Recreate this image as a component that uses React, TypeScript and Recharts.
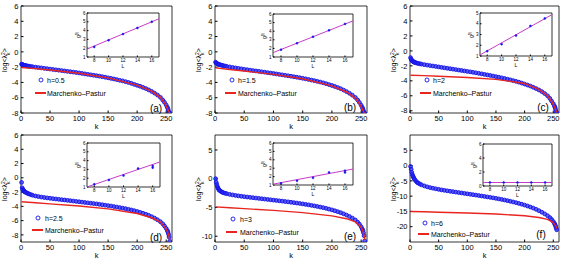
import React from 'react';
import { ScatterChart, Scatter, XAxis, YAxis, ReferenceArea } from 'recharts';

// eigenvalue index k (dense at both ends where the curve is steep)
const kIdx = [
  1, 2, 3, 4, 5, 6, 7, 8, 10, 12, 14, 17,
  20, 25, 30, 35, 40, 45, 50, 55, 60, 65, 70, 75, 80, 85, 90, 95, 100, 105, 110, 115, 120,
  125, 130, 135, 140, 145, 150, 155, 160, 165, 170, 175, 180, 185, 190, 195, 200, 205, 210,
  215, 220, 225, 230, 235, 240,
  244, 247, 250, 252, 253, 254, 255, 256,
];

const blueA = [
  -1.6, -1.65, -1.7, -1.72, -1.75, -1.77, -1.78, -1.8, -1.83, -1.86, -1.88, -1.92,
  -1.95, -2.0, -2.05, -2.1, -2.15, -2.2, -2.25, -2.3, -2.35, -2.4, -2.45, -2.5, -2.55, -2.6, -2.65, -2.7, -2.76, -2.82, -2.88, -2.94, -3.0,
  -3.06, -3.12, -3.18, -3.25, -3.32, -3.4, -3.47, -3.55, -3.63, -3.72, -3.8, -3.9, -4.0, -4.12, -4.25, -4.38, -4.5, -4.65,
  -4.8, -4.98, -5.18, -5.4, -5.65, -5.95,
  -6.3, -6.6, -6.95, -7.25, -7.45, -7.7, -7.95, -7.98,
];
const blueB = [
  -1.35, -1.45, -1.52, -1.56, -1.6, -1.63, -1.66, -1.68, -1.72, -1.76, -1.8, -1.85,
  -1.9, -1.97, -2.04, -2.1, -2.16, -2.22, -2.28, -2.34, -2.39, -2.45, -2.5, -2.55, -2.61, -2.66, -2.72, -2.77, -2.83, -2.89, -2.95, -3.01, -3.07,
  -3.13, -3.19, -3.26, -3.32, -3.39, -3.46, -3.53, -3.61, -3.69, -3.77, -3.86, -3.95, -4.05, -4.16, -4.28, -4.4, -4.53, -4.67,
  -4.82, -5.0, -5.2, -5.42, -5.67, -5.97,
  -6.3, -6.62, -6.98, -7.28, -7.48, -7.72, -7.95, -7.99,
];
const blueC = [
  -0.9, -1.1, -1.25, -1.33, -1.4, -1.45, -1.5, -1.53, -1.58, -1.63, -1.67, -1.72,
  -1.77, -1.84, -1.9, -1.96, -2.02, -2.08, -2.14, -2.2, -2.26, -2.32, -2.38, -2.44, -2.5, -2.56, -2.62, -2.68, -2.74, -2.8, -2.86, -2.93, -3.0,
  -3.07, -3.14, -3.21, -3.28, -3.36, -3.44, -3.52, -3.6, -3.69, -3.78, -3.87, -3.97, -4.07, -4.18, -4.3, -4.43, -4.56, -4.7,
  -4.86, -5.03, -5.22, -5.44, -5.7, -6.0,
  -6.35, -6.7, -7.05, -7.35, -7.55, -7.8, -8.1, -8.25,
];
const blueD = [
  -0.65, -1.4, -1.6, -1.75, -1.85, -1.92, -1.98, -2.03, -2.12, -2.2, -2.27, -2.36,
  -2.45, -2.55, -2.63, -2.7, -2.76, -2.82, -2.87, -2.92, -2.97, -3.02, -3.07, -3.11, -3.16, -3.21, -3.26, -3.31, -3.36, -3.41, -3.46, -3.51, -3.56,
  -3.61, -3.66, -3.72, -3.78, -3.84, -3.9, -3.96, -4.03, -4.1, -4.17, -4.25, -4.33, -4.42, -4.51, -4.61, -4.72, -4.84, -4.97,
  -5.11, -5.27, -5.45, -5.65, -5.88, -6.15,
  -6.45, -6.75, -7.1, -7.4, -7.6, -7.9, -8.3, -8.9,
];
const blueE = [
  0.0, -0.6, -1.0, -1.35, -1.6, -1.8, -1.95, -2.05, -2.2, -2.32, -2.42, -2.52,
  -2.6, -2.72, -2.82, -2.9, -2.98, -3.05, -3.12, -3.18, -3.24, -3.3, -3.36, -3.42, -3.48, -3.54, -3.6, -3.66, -3.72, -3.78, -3.84, -3.9, -3.96,
  -4.02, -4.09, -4.16, -4.23, -4.3, -4.38, -4.46, -4.54, -4.63, -4.72, -4.82, -4.92, -5.03, -5.15, -5.28, -5.42, -5.57, -5.73,
  -5.9, -6.1, -6.32, -6.57, -6.85, -7.17,
  -7.55, -7.9, -8.35, -8.75, -9.0, -9.4, -9.9, -10.8,
];
const blueF = [
  -0.3, -1.2, -2.2, -2.9, -3.4, -3.8, -4.2, -4.5, -5.0, -5.4, -5.7, -6.0,
  -6.3, -6.65, -6.95, -7.2, -7.4, -7.6, -7.78, -7.95, -8.1, -8.25, -8.4, -8.54, -8.68, -8.82, -8.96, -9.1, -9.24, -9.38, -9.52, -9.66, -9.8,
  -9.95, -10.1, -10.25, -10.4, -10.56, -10.72, -10.9, -11.08, -11.27, -11.47, -11.68, -11.9, -12.13, -12.38, -12.64, -12.92, -13.22, -13.55,
  -13.9, -14.3, -14.75, -15.25, -15.8, -16.4,
  -17.0, -17.6, -18.3, -18.9, -19.3, -19.8, -20.4, -21.0,
];

// Marchenko-Pastur reference curve
const redK = [1, 25, 50, 100, 150, 200, 225, 240, 248, 252, 255, 256];
const redA = [-2.05, -2.2, -2.38, -2.8, -3.4, -4.35, -5.15, -5.95, -6.8, -7.4, -7.9, -7.99];
const redB = [-2.1, -2.3, -2.5, -2.95, -3.52, -4.45, -5.25, -6.05, -6.9, -7.5, -7.95, -7.99];
const redC = [-3.25, -3.3, -3.38, -3.55, -3.8, -4.35, -5.15, -6.0, -6.85, -7.45, -8.0, -8.2];
const redD = [-3.35, -3.5, -3.65, -3.95, -4.35, -5.0, -5.6, -6.2, -6.95, -7.5, -8.2, -8.8];
const redE = [-4.9, -5.05, -5.2, -5.5, -5.9, -6.45, -6.95, -7.5, -8.2, -8.8, -9.8, -10.6];
const redF = [-15.0, -15.1, -15.25, -15.5, -15.85, -16.4, -17.0, -17.6, -18.4, -19.1, -20.0, -20.6];

// insets: g vs L with linear fit
const insetL = [8, 10, 12, 14, 16];
const insetL2 = [8, 10, 12, 14, 16, 16];
const gA = [2.15, 2.9, 3.6, 4.3, 5.0];
const gB = [1.85, 2.6, 3.35, 4.1, 4.85];
const gC = [1.45, 2.1, 2.9, 3.8, 4.5];
const gD = [1.3, 1.8, 2.3, 3.1, 3.4, 3.2];
const gE = [1.2, 1.5, 1.85, 2.5, 2.7, 2.5];
const gF = [0.5, 0.5, 0.5, 0.5, 0.5];
const fitL = [7, 17];
const fitA = [1.9, 5.35];
const fitB = [1.5, 5.2];
const fitC = [1.1, 4.85];
const fitD = [1.0, 3.85];
const fitE = [1.1, 2.9];
const fitF = [0.5, 0.5];

const hLabels = ['h=0.5', 'h=1.5', 'h=2', 'h=2.5', 'h=3', 'h=6'];
const tags = ['(a)', '(b)', '(c)', '(d)', '(e)', '(f)'];

const FONT = '"Liberation Sans", Arial, Helvetica, sans-serif';
const BLUE = '#1414e8';
const RED = '#e8251f';
const MAGENTA = '#c83cc8';

const BlueDot = (props: any) => (
  <circle cx={props.cx} cy={props.cy} r={1.9} fill="#2f2ff0" fillOpacity={0.75} stroke={BLUE} strokeWidth={0.9} />
);
const SmallDot = (props: any) => (
  <circle cx={props.cx} cy={props.cy} r={1} fill={BLUE} stroke={BLUE} strokeWidth={0.5} />
);
const NoDot = () => <g />;
const NoTick = () => <g />;

const panels = [
  { x: 0, y: 0, pl: 21, pr: 172, blue: blueA, red: redA, yDom: [-8, 6], yTicks: [-8, -6, -4, -2, 0, 2, 4, 6],
    inset: { x0: 87, y0: 13, x1: 159, y1: 57, L: insetL, g: gA, fit: fitA, dom: [1, 6], ticks: [1, 2, 3, 4, 5, 6] },
    leg: { cx: 41, y: 80, lx0: 35, lx1: 46, tx: 47, y2: 93 }, tag: { x: 156, y: 108 } },
  { x: 189, y: 0, pl: 26, pr: 178, blue: blueB, red: redB, yDom: [-8, 6], yTicks: [-8, -6, -4, -2, 0, 2, 4, 6],
    inset: { x0: 273, y0: 14, x1: 353, y1: 57, L: insetL, g: gB, fit: fitB, dom: [1, 6], ticks: [1, 2, 3, 4, 5, 6] },
    leg: { cx: 232, y: 80, lx0: 225, lx1: 236, tx: 238, y2: 93 }, tag: { x: 350, y: 107 } },
  { x: 378, y: 0, pl: 32, pr: 181, blue: blueC, red: redC, yDom: [-8.3, 6], yTicks: [-8, -6, -4, -2, 0, 2, 4, 6],
    inset: { x0: 480, y0: 13, x1: 552, y1: 56, L: insetL, g: gC, fit: fitC, dom: [1, 5], ticks: [1, 2, 3, 4, 5] },
    leg: { cx: 427, y: 80, lx0: 420, lx1: 431, tx: 433, y2: 93 }, tag: { x: 543, y: 107 } },
  { x: 0, y: 129, pl: 21, pr: 172, blue: blueD, red: redD, yDom: [-9, 6], yTicks: [-8, -6, -4, -2, 0, 2, 4, 6],
    inset: { x0: 87, y0: 143, x1: 160, y1: 187, L: insetL2, g: gD, fit: fitD, dom: [1, 6], ticks: [1, 2, 3, 4, 5, 6] },
    leg: { cx: 38, y: 218, lx0: 32, lx1: 43, tx: 45, y2: 230 }, tag: { x: 156, y: 237 } },
  { x: 189, y: 129, pl: 26, pr: 178, blue: blueE, red: redE, yDom: [-11, 7.6], yTicks: [-10, -5, 0, 5],
    inset: { x0: 273, y0: 143, x1: 353, y1: 185, L: insetL2, g: gE, fit: fitE, dom: [1, 6], ticks: [1, 2, 3, 4, 5, 6] },
    leg: { cx: 233, y: 219, lx0: 226, lx1: 237, tx: 240, y2: 232 }, tag: { x: 350, y: 236 } },
  { x: 378, y: 129, pl: 32, pr: 181, blue: blueF, red: redF, yDom: [-25, 10], yTicks: [-20, -15, -10, -5, 0, 5],
    inset: { x0: 483, y0: 144, x1: 552, y1: 186, L: insetL, g: gF, fit: fitF, dom: [0, 6], ticks: [0, 2, 4, 6] },
    leg: { cx: 425, y: 223, lx0: 418, lx1: 429, tx: 431, y2: 234 }, tag: { x: 541, y: 234 } },
];

const tickStyle = { fontSize: 7.5, fill: '#000', fontFamily: FONT };
const insetTick = { fontSize: 4.5, fill: '#000', fontFamily: FONT };
const kTicks = [0, 50, 100, 150, 200, 250];

function MainPanel({ p }: { p: any }) {
  const pts = kIdx.map((k, j) => ({ k, v: p.blue[j] }));
  const line = redK.map((k, j) => ({ k, v: p.red[j] }));
  const W = 189;
  const H = 129;
  return (
    <div style={{ position: 'absolute', left: p.x, top: p.y, width: W, height: H }}>
      <ScatterChart width={W} height={H} margin={{ top: 6, right: W - p.pr, bottom: 0, left: 0 }}>
        <XAxis type="number" dataKey="k" domain={[0, 260]} ticks={kTicks} interval={0}
          height={16} tickSize={-2.5} tickMargin={5} tick={tickStyle} stroke="#000" axisLine={false} />
        <XAxis xAxisId="top" orientation="top" type="number" domain={[0, 260]} ticks={kTicks} interval={0}
          height={0} tickSize={-2.5} tick={NoTick} stroke="#000" axisLine={false} />
        <YAxis type="number" dataKey="v" domain={p.yDom} ticks={p.yTicks} interval={0} allowDataOverflow
          width={p.pl} tickSize={-2.5} tickMargin={5} tick={tickStyle} stroke="#000" axisLine={false} />
        <YAxis yAxisId="right" orientation="right" type="number" domain={p.yDom} ticks={p.yTicks} interval={0}
          width={0} tickSize={-2.5} tick={NoTick} stroke="#000" axisLine={false} />
        <ReferenceArea x1={0} x2={260} y1={p.yDom[0]} y2={p.yDom[1]} fill="none" stroke="#000" strokeWidth={0.8} />
        <Scatter data={pts} shape={BlueDot} isAnimationActive={false} />
        <Scatter data={line} shape={NoDot} line={{ stroke: RED, strokeWidth: 1.4 }} isAnimationActive={false} />
      </ScatterChart>
      {/* y label */}
      <div style={{ position: 'absolute', left: p.pl - 16, top: 60, transform: 'translate(-50%,-50%) rotate(-90deg)',
        fontSize: 7, fontFamily: FONT, whiteSpace: 'nowrap', lineHeight: '8px' }}>
        log&lt;λ
        <span style={{ display: 'inline-flex', flexDirection: 'column', fontSize: 5, lineHeight: '4.5px', verticalAlign: 'middle' }}>
          <span>2</span><span>k</span>
        </span>
        &gt;
      </div>
      {/* x label */}
      <div style={{ position: 'absolute', left: (p.pl + p.pr) / 2, top: 126, transform: 'translate(-50%,-50%)',
        fontSize: 7.5, fontFamily: FONT }}>k</div>
    </div>
  );
}

function Inset({ p }: { p: any }) {
  const s = p.inset;
  const yW = 12;
  const xH = 12;
  const w = s.x1 - s.x0 + yW + 2;
  const h = s.y1 - s.y0 + xH + 2;
  const pts = s.L.map((L: number, j: number) => ({ L, g: s.g[j] }));
  const fit = fitL.map((L, j) => ({ L, g: s.fit[j] }));
  return (
    <div style={{ position: 'absolute', left: s.x0 - yW, top: s.y0 - 2, width: w, height: h }}>
      <ScatterChart width={w} height={h} margin={{ top: 2, right: 2, bottom: 0, left: 0 }}>
        <XAxis type="number" dataKey="L" domain={[7, 17]} ticks={[8, 10, 12, 14, 16]} interval={0}
          height={xH} tickSize={-1.5} tickMargin={3} tick={insetTick} axisLine={false} stroke="#000" />
        <YAxis type="number" dataKey="g" domain={s.dom} ticks={s.ticks} interval={0} allowDataOverflow
          width={yW} tickSize={-1.5} tickMargin={3} tick={insetTick} axisLine={false} stroke="#000" />
        <ReferenceArea x1={7} x2={17} y1={s.dom[0]} y2={s.dom[1]} fill="#fff" fillOpacity={1} stroke="#000" strokeWidth={0.8} />
        <Scatter data={fit} shape={NoDot} line={{ stroke: MAGENTA, strokeWidth: 1 }} isAnimationActive={false} />
        <Scatter data={pts} shape={SmallDot} isAnimationActive={false} />
      </ScatterChart>
      <div style={{ position: 'absolute', left: 3, top: (s.y1 - s.y0) / 2 + 2, transform: 'translate(-50%,-50%) rotate(-90deg)',
        fontSize: 5, fontFamily: FONT, whiteSpace: 'nowrap' }}>
        g<sup style={{ fontSize: 3.5 }}>(l)</sup>
      </div>
      <div style={{ position: 'absolute', left: yW + (s.x1 - s.x0) / 2, top: h - 3, transform: 'translate(-50%,-50%)',
        fontSize: 5, fontFamily: FONT }}>L</div>
    </div>
  );
}

function LegendBox({ p, i }: { p: any; i: number }) {
  const l = p.leg;
  return (
    <>
      <svg style={{ position: 'absolute', left: l.cx - 3, top: l.y - 3 }} width={6} height={6}>
        <circle cx={3} cy={3} r={2} fill="none" stroke={BLUE} strokeWidth={0.9} />
      </svg>
      <div style={{ position: 'absolute', left: l.tx, top: l.y, transform: 'translateY(-50%)', fontSize: 7,
        fontFamily: FONT, whiteSpace: 'nowrap' }}>{hLabels[i]}</div>
      <div style={{ position: 'absolute', left: l.lx0, top: l.y2 - 0.7, width: l.lx1 - l.lx0, height: 1.4, background: RED }} />
      <div style={{ position: 'absolute', left: l.tx, top: l.y2, transform: 'translateY(-50%)', fontSize: 7,
        fontFamily: FONT, whiteSpace: 'nowrap' }}>Marchenko–Pastur</div>
      <div style={{ position: 'absolute', left: p.tag.x, top: p.tag.y, transform: 'translate(-50%,-50%)', fontSize: 10,
        fontFamily: FONT }}>{tags[i]}</div>
    </>
  );
}

export default function App() {
  return (
    <div style={{ position: 'absolute', left: 0, top: 0, width: 567, height: 258, background: '#fff', overflow: 'hidden' }}>
      {panels.map((p, i) => (
        <MainPanel key={'m' + i} p={p} />
      ))}
      {panels.map((p, i) => (
        <Inset key={'i' + i} p={p} />
      ))}
      {panels.map((p, i) => (
        <LegendBox key={'l' + i} p={p} i={i} />
      ))}
    </div>
  );
}
